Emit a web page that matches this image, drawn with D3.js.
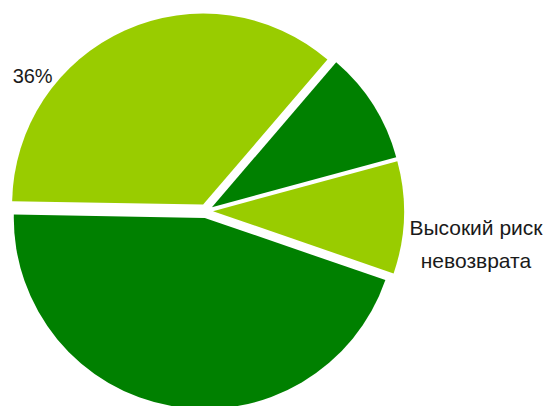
<!DOCTYPE html>
<html>
<head>
<meta charset="utf-8">
<script src="https://cdn.jsdelivr.net/npm/d3@7/dist/d3.min.js"></script>
<style>
  html, body { margin: 0; padding: 0; background: #ffffff; }
  svg { display: block; }
  text { font-family: "Liberation Sans", Arial, sans-serif; fill: #1a1a1a; }
</style>
</head>
<body>
<svg id="chart" width="546" height="406"></svg>
<script>
// Loan portfolio split by default risk
const categories = ["Низкий риск", "Умеренный риск", "Высокий риск невозврата", "Минимальный риск"];
const values = [36, 9.5, 9.5, 45];
const colors = ["#99cc00", "#008000", "#99cc00", "#008000"];

const width = 546, height = 406;
const cx = 206, cy = 211;
const radius = 191;
const explode = 7;
const deg = Math.PI / 180;

const svg = d3.select("#chart");
const g = svg.append("g").attr("transform", `translate(${cx},${cy})`);

const pie = d3.pie()
  .sort(null)
  .value(d => d.value)
  .startAngle(-89 * deg)
  .endAngle(271 * deg);

const data = categories.map((c, i) => ({ name: c, value: values[i], color: colors[i] }));
const arcs = pie(data);
const total = d3.sum(values);

const arc = d3.arc().innerRadius(0).outerRadius(radius);

// each slice is pulled out a little along its bisector
g.selectAll("path.slice")
  .data(arcs)
  .join("path")
  .attr("class", "slice")
  .attr("fill", d => d.data.color)
  .attr("transform", d => {
    const mid = (d.startAngle + d.endAngle) / 2;
    return `translate(${Math.sin(mid) * explode},${-Math.cos(mid) * explode})`;
  })
  .attr("d", arc);

// polar helper for label placement
const polar = (angleDeg, r) => [Math.sin(angleDeg * deg) * r, -Math.cos(angleDeg * deg) * r];

// percentage label of the largest light slice
const pct = d3.format(".0%");
const [px, py] = polar(308, 220);
g.append("text")
  .attr("x", px)
  .attr("y", py)
  .attr("text-anchor", "middle")
  .attr("dominant-baseline", "central")
  .style("font-size", "20px")
  .text(pct(arcs[0].data.value / total));

// category label of the small light slice, two lines
const [lx, ly] = polar(97, 272);
const words = arcs[2].data.name.split(" ");
const lines = [words.slice(0, 2).join(" "), words.slice(2).join(" ")];
const lineGap = 33;
const t = g.append("text")
  .attr("text-anchor", "middle")
  .style("font-size", "21px");
lines.forEach((ln, i) => {
  t.append("tspan")
    .attr("x", lx)
    .attr("y", ly + (i - (lines.length - 1) / 2) * lineGap)
    .attr("dominant-baseline", "central")
    .text(ln);
});
</script>
</body>
</html>
